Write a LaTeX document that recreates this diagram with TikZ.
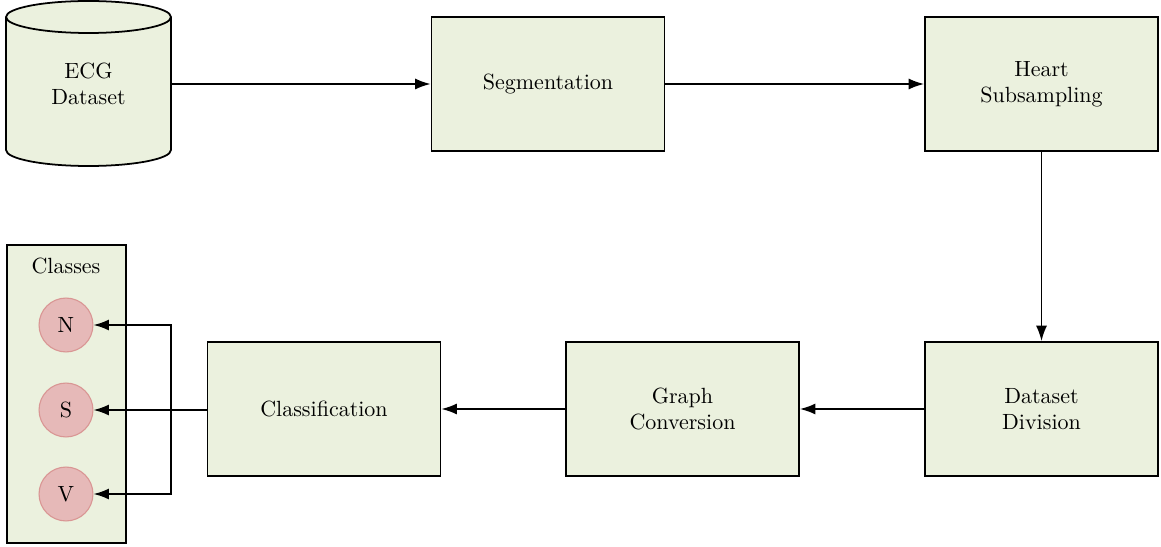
\documentclass[tikz,border=0pt]{standalone}
\usetikzlibrary{arrows.meta}
\definecolor{boxfill}{HTML}{EBF1DE}
\definecolor{circfill}{HTML}{E6B9B8}
\definecolor{circline}{HTML}{D99694}
\begin{document}
\begin{tikzpicture}[x=0.4545pt,y=0.4545pt,
  stepbox/.style={draw=black,line width=0.8pt,fill=boxfill,rectangle,
    minimum width=105.9pt,minimum height=60.9pt,align=center,inner sep=0pt},
  classcirc/.style={circle,draw=circline,line width=0.5pt,fill=circfill,
    minimum size=24.5pt,inner sep=0pt},
  arr/.style={line width=0.8pt,-{Latex[length=7pt,width=5pt]}}]
\useasboundingbox (0,0) rectangle (1161,-547);
% cylinder
\fill[boxfill] (6,-17) -- (6,-150) arc[start angle=180,end angle=360,x radius=82.5,y radius=16]
  -- (171,-17) arc[start angle=0,end angle=180,x radius=82.5,y radius=16] -- cycle;
\draw[line width=0.8pt] (6,-17) -- (6,-150) arc[start angle=180,end angle=360,x radius=82.5,y radius=16]
  -- (171,-17);
\draw[line width=0.8pt] (88.5,-17) ellipse[x radius=82.5,y radius=16];
\node[minimum width=75pt,minimum height=60.5pt,inner sep=0pt,align=center] (ecg) at (88.5,-84) {ECG\\Dataset};
\node[stepbox] (seg) at (548,-84) {Segmentation};
\node[stepbox] (heart) at (1041.5,-84) {Heart\\Subsampling};
\node[stepbox] (div) at (1041.5,-409) {Dataset\\Division};
\node[stepbox] (graph) at (682.5,-409) {Graph\\Conversion};
\node[stepbox] (classif) at (324,-409) {Classification};
% classes box
\node[draw=black,line width=0.8pt,fill=boxfill,minimum width=54pt,minimum height=135.5pt,inner sep=0pt] (classes) at (66.5,-394) {};
\node (classlbl) at (66,-266) {Classes};
\node[classcirc] (N) at (66,-325) {N};
\node[classcirc] (S) at (66,-410) {S};
\node[classcirc] (V) at (66,-494) {V};
\coordinate (br) at (171,-410);
% connectors
\draw[arr] (171,-84) -- (seg.west);
\draw[arr] (seg.east) -- (heart.west);
\draw[arr] (heart.south) -- (div.north);
\draw[arr] (div.west) -- (graph.east);
\draw[arr] (graph.west) -- (classif.east);
\draw[arr] (classif.west |- S.east) -- (S.east);
\draw[arr] (br) |- (N.east);
\draw[arr] (br) |- (V.east);
\end{tikzpicture}
\end{document}
